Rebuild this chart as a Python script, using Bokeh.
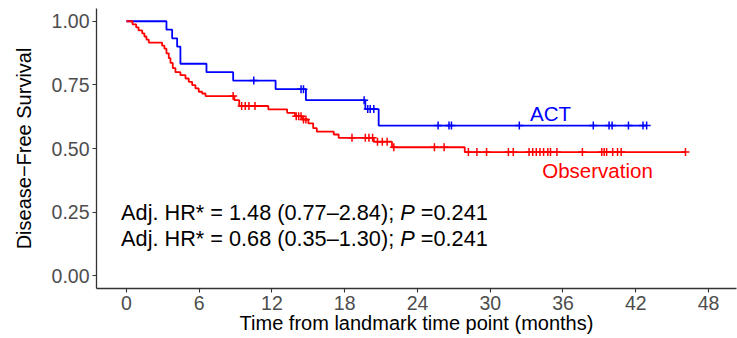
import numpy as np
from bokeh.plotting import figure
from bokeh.models import Range1d, FixedTicker
from bokeh.embed import file_html
from bokeh.resources import INLINE
from bokeh.core.properties import value

# ---------------- data ----------------
act_time = [0, 3.3, 3.77, 4.18, 4.45, 6.6, 8.8, 12.3, 14.8, 19.7, 20.8, 42.9]
act_surv = [1.0, 0.967, 0.933, 0.900, 0.833, 0.800, 0.767, 0.733, 0.690, 0.655, 0.590, 0.590]
act_censor = [10.5, 14.4, 14.6, 19.6, 19.9, 20.1, 20.4, 25.7, 26.6, 26.8, 32.4,
              38.5, 39.8, 40.05, 41.4, 42.6, 42.9]

obs_time = [0, 0.5, 0.8, 1.0, 1.3, 1.48, 1.65, 1.84, 2.94, 3.13, 3.3, 3.49, 3.63,
            3.82, 4.04, 4.45, 4.87, 5.14, 5.42, 5.69, 5.96, 6.24, 6.52, 8.9, 9.3,
            11.7, 13.25, 13.9, 14.5, 15.0, 15.4, 15.7, 17.1, 17.5, 20.4, 21.9, 27.9, 46.1]
obs_surv = [1.0, 0.988, 0.976, 0.964, 0.952, 0.940, 0.928, 0.916, 0.904, 0.892, 0.874,
            0.855, 0.836, 0.816, 0.800, 0.788, 0.775, 0.762, 0.749, 0.736, 0.723, 0.716,
            0.706, 0.690, 0.667, 0.654, 0.640, 0.627, 0.614, 0.599, 0.580, 0.566, 0.555,
            0.542, 0.527, 0.505, 0.486, 0.486]
obs_censor = [8.8, 9.5, 9.8, 10.1, 10.6, 14.0, 14.2, 14.4, 14.6, 14.8, 18.6, 19.7, 20.0,
              20.3, 20.7, 21.1, 21.5, 22.05, 25.4, 26.2, 28.2, 28.9, 29.7, 31.5, 31.9,
              33.2, 33.5, 33.8, 34.1, 34.4, 34.75, 34.97, 35.5, 37.6, 39.2, 39.4, 39.6,
              40.1, 40.5, 40.8, 46.1]

x_ticks = [0, 6, 12, 18, 24, 30, 36, 42, 48]
y_ticks = [0.0, 0.25, 0.50, 0.75, 1.00]

group_names = ["ACT", "Observation"]
hr_parts = [("Adj. HR* = 1.48 (0.77\u20132.84); ", "P", "=0.241"),
            ("Adj. HR* = 0.68 (0.35\u20131.30); ", "P", "=0.241")]

x_title = "Time from landmark time point (months)"
y_title = "Disease\u2212Free Survival"

BLUE = "#0000FF"
RED = "#FF0000"
FONT = "Liberation Sans"

# Arial / Liberation Sans advance widths (em) for offsetting the italic P
ARIAL_W = {"A": .667, "d": .556, "j": .222, ".": .278, " ": .278, "H": .722, "R": .722,
           "*": .389, "=": .584, "(": .333, ")": .333, "\u2013": .556, ";": .278, "P": .667}
for c in "0123456789":
    ARIAL_W[c] = .556


def text_width(s, size):
    return sum(ARIAL_W.get(c, .556) for c in s) * size


def surv_at(times, survs, t):
    idx = np.searchsorted(np.asarray(times), np.asarray(t), side="right") - 1
    return np.asarray(survs)[idx]


# ---------------- figure ----------------
p = figure(width=737, height=338,
           x_range=Range1d(-2.47, 50.31), y_range=Range1d(-0.05, 1.05),
           output_backend="svg", toolbar_location=None,
           min_border_left=96, min_border_right=1, min_border_top=8, min_border_bottom=50)
p.outline_line_color = None
p.xgrid.visible = False
p.ygrid.visible = False
p.background_fill_color = "white"
p.border_fill_color = "white"

for ax in (p.xaxis[0], p.yaxis[0]):
    ax.axis_line_color = "#333333"
    ax.axis_line_width = 1.3
    ax.major_tick_line_color = "#333333"
    ax.major_tick_line_width = 1.1
    ax.major_tick_out = 4
    ax.major_tick_in = 0
    ax.minor_tick_line_color = None
    ax.major_label_text_color = "#4D4D4D"
    ax.major_label_text_font = FONT
    ax.major_label_text_font_size = "19.5px"
    ax.major_label_standoff = 3
    ax.axis_label_text_font = FONT
    ax.axis_label_text_font_size = "20px"
    ax.axis_label_text_font_style = "normal"
    ax.axis_label_text_color = "black"

p.xaxis.ticker = FixedTicker(ticks=x_ticks)
p.yaxis.ticker = FixedTicker(ticks=y_ticks)
p.xaxis.major_label_overrides = {t: str(t) for t in x_ticks}
p.yaxis.major_label_overrides = {t: f"{t:.2f}" for t in y_ticks}

p.yaxis.axis_label = y_title
p.yaxis.axis_label_standoff = 14
p.xaxis.axis_label = x_title
p.xaxis.axis_label_standoff = -1

# ---------------- curves ----------------
p.step(act_time, act_surv, mode="after", line_color=BLUE, line_width=1.8)
p.step(obs_time, obs_surv, mode="after", line_color=RED, line_width=1.8)

p.scatter(act_censor, surv_at(act_time, act_surv, act_censor), marker="cross",
          size=8, line_color=BLUE, line_width=1.5)
p.scatter(obs_censor, surv_at(obs_time, obs_surv, obs_censor), marker="cross",
          size=8, line_color=RED, line_width=1.5)

# group labels
p.text(x=[34.97], y=[0.639], text=[group_names[0]], text_color=BLUE,
       text_font=value(FONT), text_font_size="20.5px", text_align="center",
       text_baseline="middle")
p.text(x=[38.85], y=[0.412], text=[group_names[1]], text_color=RED,
       text_font=value(FONT), text_font_size="20.5px", text_align="center",
       text_baseline="middle")

# HR annotations (italic P)
ann_size = 21.7
ann_x = -0.44
ann_y = [0.247, 0.145]
space_w = text_width(" ", ann_size)
for (a, pp, b), yy in zip(hr_parts, ann_y):
    wa = text_width(a, ann_size)
    wp = text_width(pp, ann_size)
    p.text(x=[ann_x], y=[yy], text=[a], text_font=value(FONT),
           text_font_size=f"{ann_size}px", text_align="left", text_baseline="middle",
           text_color="black")
    p.text(x=[ann_x], y=[yy], text=[pp], x_offset=wa, text_font=value(FONT),
           text_font_size=f"{ann_size}px", text_font_style="italic",
           text_align="left", text_baseline="middle", text_color="black")
    p.text(x=[ann_x], y=[yy], text=[b], x_offset=wa + wp + space_w, text_font=value(FONT),
           text_font_size=f"{ann_size}px", text_align="left", text_baseline="middle",
           text_color="black")

open("out.html", "w").write(file_html(p, INLINE))
